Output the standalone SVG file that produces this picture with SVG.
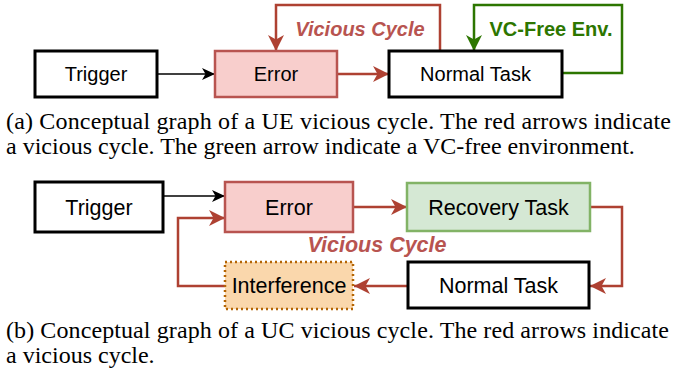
<svg xmlns="http://www.w3.org/2000/svg" width="676" height="379" viewBox="0 0 676 379">
  <style>
    .node text { font-family: "Liberation Sans", Arial, sans-serif; fill: #000; text-anchor: middle; }
    .plain { fill: #fff; stroke: #000; stroke-width: 3; }
    .err { fill: #f8cecc; stroke: #b85450; stroke-width: 2.5; }
    .rec { fill: #d5e8d4; stroke: #82b366; stroke-width: 2.5; }
    .intf { fill: #fad7ac; stroke: #b46504; stroke-width: 2.5; stroke-dasharray: 2 3; }
    .edge { fill: none; stroke-linejoin: miter; }
    .blk { stroke: #000; stroke-width: 1.3; }
    .red { stroke: #ae4132; stroke-width: 2.5; }
    .grn { stroke: #2d7600; stroke-width: 2.5; }
    .lbl { font-family: "Liberation Sans", Arial, sans-serif; font-weight: bold; }
    .cap { font-family: "Liberation Serif", "Times New Roman", serif; font-size: 24px; fill: #000; }
  </style>
  <defs>
    <marker id="ah-black" markerUnits="userSpaceOnUse" markerWidth="14" markerHeight="12" refX="13" refY="6" orient="auto">
      <path d="M0,0 L13,6 L0,12 L3.5,6 Z" fill="#000"/>
    </marker>
    <marker id="ah-red" markerUnits="userSpaceOnUse" markerWidth="17" markerHeight="16" refX="16" refY="8" orient="auto">
      <path d="M0,0 L16,8 L0,16 L4.5,8 Z" fill="#ae4132"/>
    </marker>
    <marker id="ah-green" markerUnits="userSpaceOnUse" markerWidth="17" markerHeight="16" refX="16" refY="8" orient="auto">
      <path d="M0,0 L16,8 L0,16 L4.5,8 Z" fill="#2d7600"/>
    </marker>
  </defs>
  <rect width="676" height="379" fill="#fff"/>

  <!-- connectors -->
  <g id="connectors">
    <path class="edge blk" d="M157,74 H215" marker-end="url(#ah-black)"/>
    <path class="edge red" d="M337,74 H389" marker-end="url(#ah-red)"/>
    <path class="edge red" d="M440,51 V5 H276 V51" marker-end="url(#ah-red)"/>
    <path class="edge grn" d="M562,73 H622 V5 H474 V51" marker-end="url(#ah-green)"/>

    <path class="edge blk" d="M163,196 H225" marker-end="url(#ah-black)"/>
    <path class="edge red" d="M353,207 H407" marker-end="url(#ah-red)"/>
    <path class="edge red" d="M590,207 H622 V286 H590" marker-end="url(#ah-red)"/>
    <path class="edge red" d="M408,286 H354" marker-end="url(#ah-red)"/>
    <path class="edge red" d="M225,286 H178 V218 H225" marker-end="url(#ah-red)"/>

    <text class="lbl" x="360" y="36" font-size="20" font-style="italic" fill="#b85450" text-anchor="middle">Vicious Cycle</text>
    <text class="lbl" x="551" y="36" font-size="20" fill="#2d7600" text-anchor="middle">VC-Free Env.</text>
    <text class="lbl" x="377" y="252" font-size="21.5" font-style="italic" fill="#b85450" text-anchor="middle">Vicious Cycle</text>
  </g>

  <!-- (a) UE vicious cycle -->
  <g id="a-trigger" class="node">
    <rect class="plain" x="35" y="51" width="122" height="46"/>
    <text x="96" y="81" font-size="20">Trigger</text>
  </g>
  <g id="a-error" class="node">
    <rect class="err" x="215" y="51" width="122" height="46"/>
    <text x="276" y="81" font-size="20">Error</text>
  </g>
  <g id="a-normal" class="node">
    <rect class="plain" x="389" y="51" width="173" height="46"/>
    <text x="475.5" y="81" font-size="20">Normal Task</text>
  </g>

  <!-- (b) UC vicious cycle -->
  <g id="b-trigger" class="node">
    <rect class="plain" x="35" y="182" width="128" height="50"/>
    <text x="99" y="215" font-size="21.5">Trigger</text>
  </g>
  <g id="b-error" class="node">
    <rect class="err" x="225" y="182" width="128" height="50"/>
    <text x="289" y="215" font-size="21.5">Error</text>
  </g>
  <g id="b-recovery" class="node">
    <rect class="rec" x="407" y="183" width="183" height="48"/>
    <text x="498.5" y="215" font-size="21.5">Recovery Task</text>
  </g>
  <g id="b-normal" class="node">
    <rect class="plain" x="408" y="262" width="181" height="46"/>
    <text x="498.5" y="293" font-size="21.5">Normal Task</text>
  </g>
  <g id="b-interference" class="node">
    <rect class="intf" x="225" y="262" width="128" height="47"/>
    <text x="289" y="293" font-size="21.5">Interference</text>
  </g>

  <!-- captions -->
  <g id="captions" class="cap">
    <text x="6" y="129" textLength="665" lengthAdjust="spacing">(a) Conceptual graph of a UE vicious cycle. The red arrows indicate</text>
    <text x="6" y="154">a vicious cycle. The green arrow indicate a VC-free environment.</text>
    <text x="6" y="338" textLength="663" lengthAdjust="spacing">(b) Conceptual graph of a UC vicious cycle. The red arrows indicate</text>
    <text x="6" y="363">a vicious cycle.</text>
  </g>
</svg>
